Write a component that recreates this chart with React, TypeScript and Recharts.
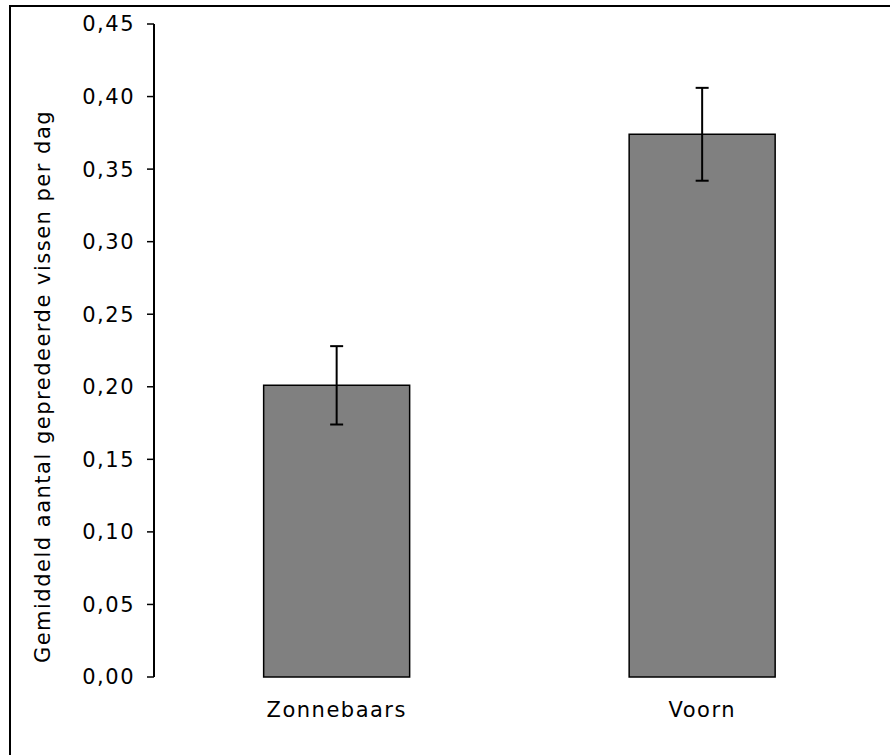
import React from "react";
import {
  BarChart,
  Bar,
  XAxis,
  YAxis,
  ErrorBar,
  Label,
} from "recharts";

// Predation per prey species
const categories = ["Zonnebaars", "Voorn"];
const means = [0.201, 0.374];
const errors = [0.027, 0.032];
const yTicks = [0, 0.05, 0.1, 0.15, 0.2, 0.25, 0.3, 0.35, 0.4, 0.45];
const yTitle = "Gemiddeld aantal gepredeerde vissen per dag";

const data = categories.map((name, i) => ({
  name,
  mean: means[i],
  err: errors[i],
}));

const FONT = "'DejaVu Sans', Verdana, sans-serif";
const textStyle = {
  fontFamily: FONT,
  fontSize: 21,
  fill: "#000",
  letterSpacing: 1.5,
};

const formatTick = (v: number) => v.toFixed(2).replace(".", ",");

const renderYTitle = (props: any) => {
  const vb = props.viewBox || { x: 0, y: 24, width: 154, height: 653 };
  const x = 50;
  const y = vb.y + vb.height / 2 + 36;
  return (
    <text
      x={x}
      y={y}
      transform={`rotate(-90 ${x} ${y})`}
      textAnchor="middle"
      style={textStyle}
    >
      {yTitle}
    </text>
  );
};

export default function App() {
  return (
    <div
      style={{
        position: "fixed",
        left: 0,
        top: 0,
        width: 890,
        height: 755,
        overflow: "hidden",
        background: "#fff",
      }}
    >
      <div
        style={{
          position: "absolute",
          left: 9,
          top: 5,
          width: 900,
          height: 800,
          borderLeft: "2px solid #000",
          borderTop: "2px solid #000",
        }}
      />
      <BarChart
        width={890}
        height={755}
        data={data}
        margin={{ top: 24, right: 5, bottom: 0, left: 0 }}
        barCategoryGap="30%"
        style={{ position: "absolute", left: 0, top: 0 }}
      >
        {/* axis line with ticks at category boundaries */}
        <XAxis
          xAxisId="edges"
          type="number"
          domain={[0, 2]}
          ticks={[0, 1, 2]}
          tick={false}
          height={0}
          tickSize={8}
          axisLine={{ stroke: "#000", strokeWidth: 2 }}
          tickLine={{ stroke: "#000", strokeWidth: 1.5 }}
        />
        <XAxis
          dataKey="name"
          height={78}
          axisLine={false}
          tickLine={false}
          tickSize={0}
          tickMargin={25}
          tick={textStyle}
        />
        <YAxis
          width={154}
          domain={[0, 0.45]}
          ticks={yTicks}
          tickFormatter={formatTick}
          tickSize={7}
          tickMargin={12}
          tick={textStyle}
          axisLine={{ stroke: "#000", strokeWidth: 2 }}
          tickLine={{ stroke: "#000", strokeWidth: 1.5 }}
        >
          <Label content={renderYTitle} />
        </YAxis>
        <Bar
          dataKey="mean"
          fill="#808080"
          stroke="#000"
          strokeWidth={1.5}
          isAnimationActive={false}
        >
          <ErrorBar
            dataKey="err"
            direction="y"
            width={6.5}
            stroke="#000"
            strokeWidth={2}
            isAnimationActive={false}
          />
        </Bar>
      </BarChart>
    </div>
  );
}
